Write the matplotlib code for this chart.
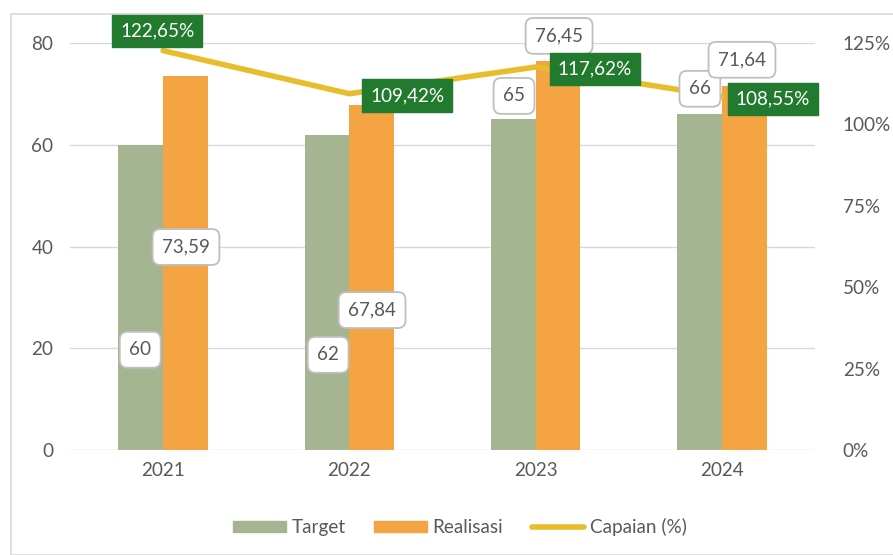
import matplotlib
matplotlib.use("Agg")
import matplotlib.pyplot as plt
import numpy as np
from matplotlib.patches import Rectangle
from matplotlib.lines import Line2D
from matplotlib.patches import Patch

years = ["2021", "2022", "2023", "2024"]
target = [60, 62, 65, 66]
realisasi = [73.59, 67.84, 76.45, 71.64]
capaian = [122.65, 109.42, 117.62, 108.55]
left_ticks = [0, 20, 40, 60, 80]
right_ticks = [0, 25, 50, 75, 100, 125]

# label positions (category offset, left-axis y) as placed in reference
target_lbl_pos = [(-0.123, 19.7), (0.886, 18.7), (1.884, 69.6), (2.882, 71.0)]
real_lbl_pos = [(0.123, 39.9), (1.122, 27.5), (2.126, 81.4), (3.108, 76.7)]
cap_lbl_pos = [(-0.032, 82.4), (1.31, 69.6), (2.319, 74.9), (3.274, 69.0)]

plt.rcParams['font.family'] = ['Lato', 'DejaVu Sans']
W, H = 893, 555
fs = 13.6
fig = plt.figure(figsize=(W / 100, H / 100), dpi=100)
ax = fig.add_axes([70 / W, 1 - 450 / H, (815 - 70) / W, (450 - 43) / H])
ax2 = ax.twinx()

x = np.arange(len(years))
bw = 0.24
green = "#A5B592"
orange = "#F4A443"
yellow = "#E8BD2B"
gray = "#595959"

ax.bar(x - bw / 2, target, bw, color=green, zorder=2)
ax.bar(x + bw / 2, realisasi, bw, color=orange, zorder=2)
ax.set_xlim(-0.5, 3.5)
ax.set_ylim(0, 80)
ax.set_yticks(left_ticks)
ax.set_xticks(x)
ax.set_xticklabels(years)
ax.grid(axis='y', color="#D9D9D9", linewidth=1, zorder=0)
ax.set_axisbelow(True)
for s in ax.spines.values():
    s.set_visible(False)
for s in ax2.spines.values():
    s.set_visible(False)
ax.tick_params(axis='both', length=0, labelsize=fs, colors=gray, pad=9)
ax.tick_params(axis='y', pad=12)

ax2.plot(x, [c / 100 for c in capaian], color=yellow, linewidth=4, solid_capstyle='round', zorder=3)
ax2.set_ylim(0, 1.25)
ax2.set_yticks([t / 100 for t in right_ticks])
ax2.set_yticklabels([f"{t}%" for t in right_ticks])
ax2.tick_params(axis='y', length=0, labelsize=fs, colors=gray, pad=20)

def fmt(v):
    return str(int(v)) if v == int(v) else f"{v:.2f}".replace('.', ',')

white_box = dict(boxstyle="round,pad=0.5,rounding_size=0.4", fc="white", ec="#BFBFBF", lw=1.3)
green_box = dict(boxstyle="square,pad=0.42", fc="#217A2E", ec="#217A2E")

for v, (px, py) in zip(target, target_lbl_pos):
    ax2.text(px, py / 80 * 1.25, fmt(v), ha='center', va='center', fontsize=fs, color=gray, bbox=white_box, zorder=5)
for v, (px, py) in zip(realisasi, real_lbl_pos):
    ax2.text(px, py / 80 * 1.25, fmt(v), ha='center', va='center', fontsize=fs, color=gray, bbox=white_box, zorder=5)
for v, (px, py) in zip(capaian, cap_lbl_pos):
    ax2.text(px, py / 80 * 1.25, f"{v:.2f}%".replace('.', ','), ha='center', va='center', fontsize=fs, color="white", bbox=green_box, zorder=6)

handles = [Patch(color=green, label="Target"), Patch(color=orange, label="Realisasi"),
           Line2D([0], [0], color=yellow, lw=4, solid_capstyle='round', label="Capaian (%)")]
leg = fig.legend(handles=handles, loc='center', bbox_to_anchor=(460 / W, 1 - 527 / H), ncol=3,
                 frameon=False, fontsize=fs, handlelength=2.8, handleheight=0.55, columnspacing=1.5,
                 handletextpad=0.3)
for t in leg.get_texts():
    t.set_color(gray)

fig.patches.append(Rectangle((11 / W, 0), 1, 1 - 14 / H, transform=fig.transFigure, fill=False, ec="#D9D9D9", lw=1.2))

fig.savefig("out.png", dpi=100)
